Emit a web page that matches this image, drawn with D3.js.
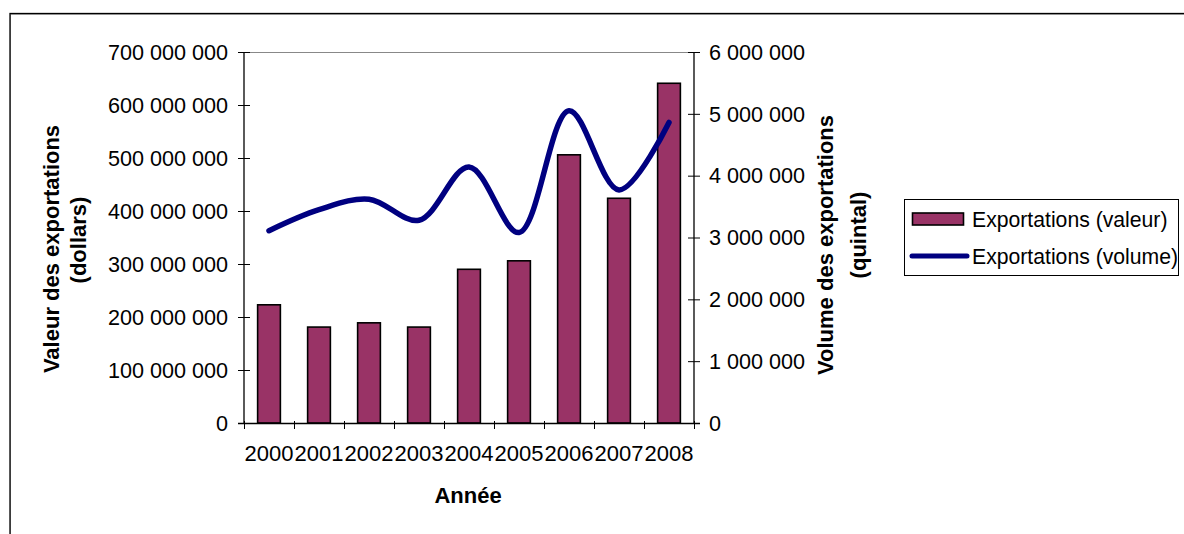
<!DOCTYPE html>
<html>
<head>
<meta charset="utf-8">
<script src="https://cdn.jsdelivr.net/npm/d3@7"></script>
<style>
  html, body { margin: 0; padding: 0; background: #fff; }
  svg { display: block; font-family: "Liberation Sans", Arial, sans-serif; }
</style>
</head>
<body>
<svg id="chart" width="1184" height="534"></svg>
<script>
const years = ["2000","2001","2002","2003","2004","2005","2006","2007","2008"];
const valeur = [223000000, 181000000, 189000000, 181000000, 290000000, 306000000, 506000000, 424000000, 641000000];
const volume = [3110000, 3450000, 3620000, 3280000, 4140000, 3080000, 5050000, 3770000, 4860000];
const leftTicks = [0, 100000000, 200000000, 300000000, 400000000, 500000000, 600000000, 700000000];
const rightTicks = [0, 1000000, 2000000, 3000000, 4000000, 5000000, 6000000];
const seriesNames = ["Exportations (valeur)", "Exportations (volume)"];

const svg = d3.select("#chart");
const L = 244, R = 694, T = 52, B = 423;
const barColor = "#993366", lineColor = "#000080";

// outer frame
svg.append("rect").attr("x", 10.5).attr("y", 14.5).attr("width", 1300).attr("height", 700)
  .attr("fill", "none").attr("stroke", "#aaa").attr("stroke-width", 1);
svg.append("rect").attr("x", 10).attr("y", 13.5).attr("width", 1300).attr("height", 700)
  .attr("fill", "none").attr("stroke", "#000").attr("stroke-width", 1.3);

const x = d3.scaleBand().domain(years).range([L, R]).paddingInner(0.545).paddingOuter(0.2725);
const xs = d3.scalePoint().domain(years).range([L + 25, R - 25]);
const yL = d3.scaleLinear().domain([0, 700000000]).range([B, T]);
const yR = d3.scaleLinear().domain([0, 6000000]).range([B, T]);

const fmt = v => d3.format(",")(v).replace(/,/g, " ");

// plot area top border (gray)
svg.append("line").attr("x1", L).attr("x2", R).attr("y1", T + 0.5).attr("y2", T + 0.5)
  .attr("stroke", "#888").attr("stroke-width", 1);

// bars
svg.append("g").selectAll("rect").data(years).join("rect")
  .attr("x", d => x(d))
  .attr("width", x.bandwidth())
  .attr("y", (d, i) => yL(valeur[i]))
  .attr("height", (d, i) => B - yL(valeur[i]))
  .attr("fill", barColor).attr("stroke", "#000").attr("stroke-width", 1.6);

// left axis
const gL = svg.append("g").attr("transform", `translate(${L},0)`);
gL.append("line").attr("x1", 0).attr("x2", 0).attr("y1", T).attr("y2", B).attr("stroke", "#000").attr("stroke-width", 1.3);
gL.selectAll("line.t").data(leftTicks).join("line").attr("class", "t")
  .attr("x1", -6).attr("x2", 6).attr("y1", d => yL(d) + 0.5).attr("y2", d => yL(d) + 0.5)
  .attr("stroke", "#000").attr("stroke-width", 1);
gL.selectAll("text").data(leftTicks).join("text")
  .attr("x", -16).attr("y", d => yL(d)).attr("dy", "0.36em")
  .attr("text-anchor", "end").attr("font-size", 21.6).attr("fill", "#000")
  .text(fmt);

// right axis
const gR = svg.append("g").attr("transform", `translate(${R},0)`);
gR.append("line").attr("x1", 0).attr("x2", 0).attr("y1", T).attr("y2", B).attr("stroke", "#000").attr("stroke-width", 1.3);
gR.selectAll("line.t").data(rightTicks).join("line").attr("class", "t")
  .attr("x1", -6).attr("x2", 6).attr("y1", d => yR(d) + 0.5).attr("y2", d => yR(d) + 0.5)
  .attr("stroke", "#000").attr("stroke-width", 1);
gR.selectAll("text").data(rightTicks).join("text")
  .attr("x", 15).attr("y", d => yR(d)).attr("dy", "0.36em")
  .attr("text-anchor", "start").attr("font-size", 21.6).attr("fill", "#000")
  .text(fmt);

// x axis
const gX = svg.append("g");
gX.append("line").attr("x1", L - 6).attr("x2", R + 6).attr("y1", B + 0.5).attr("y2", B + 0.5).attr("stroke", "#000").attr("stroke-width", 1.3);
gX.selectAll("line.t").data(years.concat(["end"])).join("line").attr("class", "t")
  .attr("x1", (d, i) => L + i * x.step() + 0.5).attr("x2", (d, i) => L + i * x.step() + 0.5)
  .attr("y1", B - 2).attr("y2", B + 6).attr("stroke", "#000").attr("stroke-width", 1);
gX.selectAll("text").data(years).join("text")
  .attr("x", d => xs(d)).attr("y", B + 30).attr("dy", "0.36em")
  .attr("text-anchor", "middle").attr("font-size", 22).attr("fill", "#000")
  .text(d => d);

// line
const line = d3.line().x((d, i) => xs(years[i])).y(d => yR(d)).curve(d3.curveCatmullRom.alpha(0.5));
svg.append("path").datum(volume).attr("d", line)
  .attr("fill", "none").attr("stroke", lineColor).attr("stroke-width", 5.5)
  .attr("stroke-linecap", "round").attr("stroke-linejoin", "round");

// axis titles
svg.append("text").attr("transform", "translate(59,249) rotate(-90)")
  .attr("text-anchor", "middle").attr("font-size", 22).attr("font-weight", "bold").text("Valeur des exportations");
svg.append("text").attr("transform", "translate(86,240) rotate(-90)")
  .attr("text-anchor", "middle").attr("font-size", 22).attr("font-weight", "bold").text("(dollars)");
svg.append("text").attr("transform", "translate(833,245) rotate(-90)")
  .attr("text-anchor", "middle").attr("font-size", 22).attr("font-weight", "bold").text("Volume des exportations");
svg.append("text").attr("transform", "translate(866,235) rotate(-90)")
  .attr("text-anchor", "middle").attr("font-size", 22).attr("font-weight", "bold").text("(quintal)");
svg.append("text").attr("x", 468).attr("y", 503)
  .attr("text-anchor", "middle").attr("font-size", 22).attr("font-weight", "bold").text("Année");

// legend
const lg = svg.append("g");
lg.append("rect").attr("x", 904.5).attr("y", 199.5).attr("width", 274).attr("height", 76)
  .attr("fill", "#fff").attr("stroke", "#000").attr("stroke-width", 1);
lg.append("rect").attr("x", 912.5).attr("y", 213).attr("width", 51).attr("height", 12)
  .attr("fill", barColor).attr("stroke", "#000").attr("stroke-width", 1.6);
lg.append("line").attr("x1", 912).attr("x2", 967).attr("y1", 256).attr("y2", 256)
  .attr("stroke", lineColor).attr("stroke-width", 5).attr("stroke-linecap", "round");
lg.selectAll("text").data(seriesNames).join("text")
  .attr("x", 972).attr("y", (d, i) => 219 + i * 37).attr("dy", "0.36em")
  .attr("font-size", 21.2).attr("fill", "#000").text(d => d);
</script>
</body>
</html>
